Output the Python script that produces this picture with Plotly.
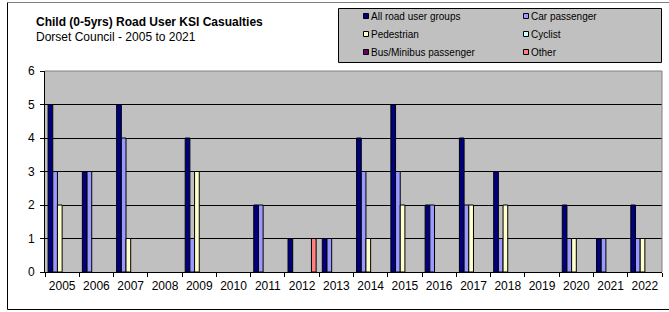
import plotly.graph_objects as go

years = ["2005", "2006", "2007", "2008", "2009", "2010", "2011", "2012", "2013",
         "2014", "2015", "2016", "2017", "2018", "2019", "2020", "2021", "2022"]

all_road = [5, 3, 5, 0, 4, 0, 2, 1, 1, 4, 5, 2, 4, 3, 0, 2, 1, 2]
car_passenger = [3, 3, 4, 0, 1, 0, 2, 0, 1, 3, 3, 2, 2, 1, 0, 1, 1, 1]
pedestrian = [2, 0, 1, 0, 3, 0, 0, 0, 0, 1, 2, 0, 2, 2, 0, 1, 0, 1]
cyclist = [0] * 18
bus_minibus = [0] * 18
other = [0, 0, 0, 0, 0, 0, 0, 1, 0, 0, 0, 0, 0, 0, 0, 0, 0, 0]

series_names = ["All road user groups", "Car passenger", "Pedestrian",
                "Cyclist", "Bus/Minibus passenger", "Other"]
series_values = [all_road, car_passenger, pedestrian, cyclist, bus_minibus, other]
series_colors = ["#000080", "#9999FF", "#FFFFCC", "#CCFFFF", "#660066", "#FF8080"]

title_text = "Child (0-5yrs) Road User KSI Casualties"
subtitle_text = "Dorset Council - 2005 to 2021"

W, H = 669, 312
L, R, T, B = 45, 662, 71, 272
PW, PH = R - L, B - T


def px(x):
    return (x - L) / PW


def py(y):
    return (B - y) / PH


FONT = "Liberation Sans, Arial, sans-serif"

fig = go.Figure()
for name, vals, col in zip(series_names, series_values, series_colors):
    fig.add_trace(go.Bar(
        x=years, y=[v if v else None for v in vals], name=name,
        marker=dict(color=col, line=dict(color="#000000", width=1)),
        showlegend=False,
    ))

shapes = []
annotations = []

# outer chart border (left, top, bottom; right edge lies outside the picture)
for (xa, ya, xb, yb, c) in [(7.5, 2.5, 669, 2.5, "#808080"),
                            (7.5, 2.5, 7.5, 309.5, "#000000"),
                            (7.5, 309.5, 669, 309.5, "#000000")]:
    shapes.append(dict(type="line", xref="paper", yref="paper",
                       x0=px(xa), x1=px(xb), y0=py(ya), y1=py(yb),
                       line=dict(color=c, width=1), layer="below"))
# plot area top/right border (grey)
shapes.append(dict(type="line", xref="paper", yref="paper", x0=0, x1=1, y0=1, y1=1,
                   line=dict(color="#808080", width=1), layer="above"))
shapes.append(dict(type="line", xref="paper", yref="paper", x0=1, x1=1, y0=0, y1=1,
                   line=dict(color="#808080", width=1), layer="above"))

# legend box
shapes.append(dict(type="rect", xref="paper", yref="paper",
                   x0=px(338.5), x1=px(661.5), y0=py(62.5), y1=py(8.5),
                   fillcolor="#C0C0C0", line=dict(color="#000000", width=1), layer="below"))
col_x = [363, 523]
row_y = [16, 34, 52]
for i, (name, col) in enumerate(zip(series_names, series_colors)):
    cx = col_x[i % 2]
    cy = row_y[i // 2]
    shapes.append(dict(type="rect", xref="paper", yref="paper",
                       x0=px(cx + 0.5), x1=px(cx + 5.5), y0=py(cy + 2.5), y1=py(cy - 2.5),
                       fillcolor=col, line=dict(color="#000000", width=1)))
    annotations.append(dict(xref="paper", yref="paper", x=px(cx + 6), y=py(cy),
                            xanchor="left", yanchor="middle", showarrow=False,
                            text=name, font=dict(family=FONT, size=10, color="#000000")))

annotations.append(dict(xref="paper", yref="paper", x=px(34), y=py(22),
                        xanchor="left", yanchor="middle", showarrow=False,
                        text="<b>" + title_text + "</b>",
                        font=dict(family=FONT, size=12, color="#000000")))
annotations.append(dict(xref="paper", yref="paper", x=px(34), y=py(37),
                        xanchor="left", yanchor="middle", showarrow=False,
                        text=subtitle_text,
                        font=dict(family=FONT, size=12, color="#000000")))

fig.update_layout(
    width=W, height=H,
    margin=dict(l=L, r=W - R, t=T, b=H - B, pad=0, autoexpand=False),
    paper_bgcolor="#FFFFFF",
    plot_bgcolor="#C0C0C0",
    barmode="group", bargap=0.18, bargroupgap=0,
    font=dict(family=FONT, size=12, color="#000000"),
    shapes=shapes, annotations=annotations,
    xaxis=dict(type="category", tickson="boundaries", ticks="outside", ticklen=4,
               tickcolor="#000000", showline=True, linecolor="#000000", linewidth=1,
               showgrid=False, tickangle=0, automargin=False, ticklabelstandoff=3,
               tickfont=dict(family=FONT, size=12), fixedrange=True),
    yaxis=dict(range=[0, 6], dtick=1, ticks="outside", ticklen=4, tickcolor="#000000",
               showline=True, linecolor="#000000", linewidth=1, automargin=False,
               ticklabelstandoff=3,
               showgrid=True, gridcolor="#000000", gridwidth=1, zeroline=False,
               tickfont=dict(family=FONT, size=12), fixedrange=True),
)

fig.write_html("out.html", config={"displayModeBar": False},
               post_script="document.body.style.margin='0';document.body.style.overflow='hidden';")
